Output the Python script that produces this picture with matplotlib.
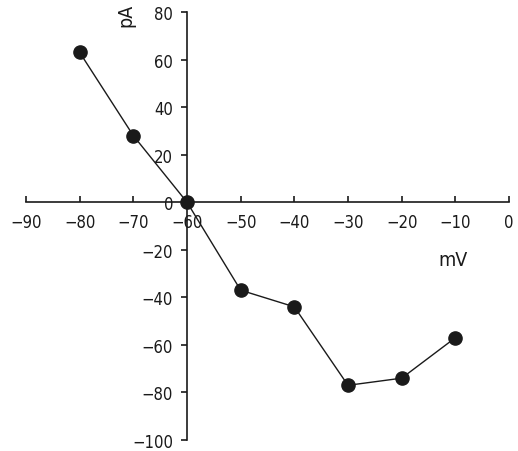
import numpy as np
import matplotlib
matplotlib.use('Agg')
import matplotlib.pyplot as plt

plt.rcParams['font.family'] = ['DejaVu Sans']
plt.rcParams['font.stretch'] = 'condensed'

# I-V curve
mv = [-80, -70, -60, -50, -40, -30, -20, -10]
pa = [63, 28, 0, -37, -44, -77, -74, -57]

xticks = [-90, -80, -70, -60, -50, -40, -30, -20, -10, 0]
yticks = [-100, -80, -60, -40, -20, 0, 20, 40, 60, 80]

fig = plt.figure(figsize=(5.18, 4.52), dpi=100)
ax = fig.add_axes([26/518, 11/452, 483/518, 428/452])

ax.plot(mv, pa, color='#1a1a1a', lw=1.0, marker='o', ms=9.5,
        mfc='#1a1a1a', mec='#1a1a1a', clip_on=False, zorder=3)

ax.set_xlim(-90, 0)
ax.set_ylim(-100, 80)
ax.spines['left'].set_position(('data', -60))
ax.spines['bottom'].set_position(('data', 0))
ax.spines['top'].set_visible(False)
ax.spines['right'].set_visible(False)
for s in ('left', 'bottom'):
    ax.spines[s].set_linewidth(1.2)
    ax.spines[s].set_color('#1a1a1a')

ax.set_xticks(xticks)
ax.set_xticklabels([str(t).replace('-', '\u2212') for t in xticks])
ax.set_yticks(yticks)
ax.set_yticklabels([str(t).replace('-', '\u2212') for t in yticks])
ax.tick_params(axis='x', direction='in', length=4, width=1.2, labelsize=12,
               pad=8, colors='#1a1a1a')
ax.tick_params(axis='y', direction='out', length=4, width=1.2, labelsize=12,
               pad=6, colors='#1a1a1a')

ax.text(-71.3, 79, 'pA', rotation=90, fontsize=14, ha='center', va='center',
        color='#1a1a1a')
ax.text(-10.5, -24, 'mV', fontsize=14, ha='center', va='center',
        color='#1a1a1a')

fig.savefig('out.png', dpi=100)
